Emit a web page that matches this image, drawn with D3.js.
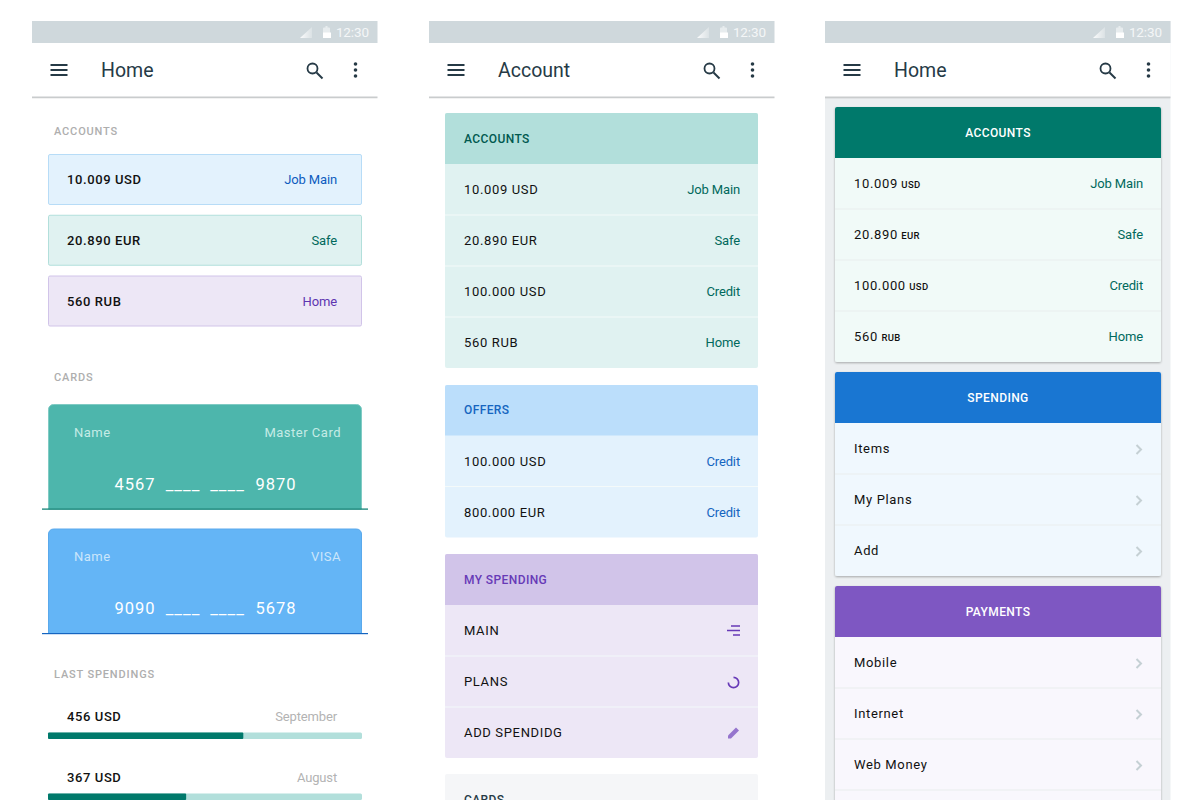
<!DOCTYPE html>
<html>
<head>
<meta charset="utf-8">
<title>Material cards</title>
<script src="https://cdn.jsdelivr.net/npm/d3@7"></script>
<style>
  html, body { margin: 0; padding: 0; background: #fff; overflow: hidden; }
  svg { display: block; }
  text { font-family: Roboto, sans-serif; }
</style>
</head>
<body>
<div id="chart"></div>
<script>
// Values
const simpleAccounts = ["10.009 USD", "20.890 EUR", "560 RUB"];
const simpleAccountNames = ["Job Main", "Safe", "Home"];
const cardNames = ["Master Card", "VISA"];
const cardFirst = ["4567", "9090"];
const cardLast = ["9870", "5678"];
const spendAmounts = ["456 USD", "367 USD"];
const spendMonths = ["September", "August"];
const spendShare = [0.622, 0.44];

const accountAmounts = ["10.009", "20.890", "100.000", "560"];
const accountUnits = ["USD", "EUR", "USD", "RUB"];
const accountNames = ["Job Main", "Safe", "Credit", "Home"];
const offerAmounts = ["100.000 USD", "800.000 EUR"];
const offerNames = ["Credit", "Credit"];
const mySpending = ["MAIN", "PLANS", "ADD SPENDIDG"];
const spendingItems = ["Items", "My Plans", "Add"];
const paymentItems = ["Mobile", "Internet", "Web Money", ""];

const width = 1200, height = 800;
const svg = d3.select("#chart").append("svg").attr("width", width).attr("height", height);

const defs = svg.append("defs");
const blur = defs.append("filter").attr("id", "soft").attr("x", "-5%").attr("y", "-5%").attr("width", "110%").attr("height", "115%");
blur.append("feDropShadow").attr("dx", 0).attr("dy", 1).attr("stdDeviation", 1).attr("flood-color", "#000").attr("flood-opacity", 0.3);
const fade = defs.append("linearGradient").attr("id", "signal").attr("x1", 0).attr("x2", 1).attr("y1", 0).attr("y2", 0);
fade.append("stop").attr("offset", "0%").attr("stop-color", "#fff").attr("stop-opacity", 0.9);
fade.append("stop").attr("offset", "100%").attr("stop-color", "#fff").attr("stop-opacity", 0.25);

const ink = "#263a46";

function label(g, x, y, str, o = {}) {
  return g.append("text")
    .attr("x", x).attr("y", y)
    .attr("dy", "0.35em")
    .attr("text-anchor", o.anchor || "start")
    .attr("font-size", o.size || 13)
    .attr("font-weight", o.weight || 400)
    .attr("letter-spacing", o.spacing === undefined ? 0.6 : o.spacing)
    .attr("fill", o.color || "#111")
    .text(str);
}

function phone(x, title, bg) {
  const g = svg.append("g").attr("transform", `translate(${x},0)`);
  g.append("rect").attr("y", 21).attr("width", 345.500).attr("height", height - 21).attr("fill", bg);
  g.append("rect").attr("y", 21).attr("width", 345.500).attr("height", 22).attr("fill", "#cfd8dc");

  // status bar
  g.append("path").attr("d", "M268 38h12v-11z").attr("fill", "url(#signal)");
  g.append("path").attr("d", "M291 38v-9.500a1 1 0 0 1 1-1h1.500v-1.500h2v1.500h1.500a1 1 0 0 1 1 1v9.500z").attr("fill", "#fff").attr("opacity", 0.5);
  g.append("path").attr("d", "M291 38v-5.500h8v5.500z").attr("fill", "#fff");
  label(g, 337, 32, "12:30", { anchor: "end", size: 13.500, color: "#f4f6f7", spacing: -0.1 });

  // app bar
  g.append("rect").attr("y", 43).attr("width", 345.500).attr("height", 54).attr("fill", "#fff");
  g.append("rect").attr("y", 96.500).attr("width", 345.500).attr("height", 1.500).attr("fill", "#c9cccd");
  g.append("rect").attr("y", 98).attr("width", 345.500).attr("height", 1).attr("fill", "#000").attr("opacity", 0.05);
  g.append("path").attr("d", "M18.500 65h17M18.500 70h17M18.500 75h17").attr("stroke", ink).attr("stroke-width", 1.800).attr("fill", "none");
  label(g, 69, 70.500, title, { size: 19.500, color: ink, spacing: 0 });
  g.append("circle").attr("cx", 280.500).attr("cy", 68.500).attr("r", 5).attr("fill", "none").attr("stroke", ink).attr("stroke-width", 1.800);
  g.append("path").attr("d", "M284.500 72.500l6 6").attr("stroke", ink).attr("stroke-width", 2);
  g.selectAll(".dot").data([-6, 0, 6]).join("circle")
    .attr("cx", 323.500).attr("cy", d => 70 + d).attr("r", 1.800).attr("fill", ink);
  return g;
}

function chevron(g, x, y) {
  g.append("path").attr("d", `M${x - 2.500} ${y - 4.500}l4.500 4.500l-4.500 4.500`)
    .attr("fill", "none").attr("stroke", "#c5d0d4").attr("stroke-width", 2);
}

// ---------- first screen
const p1 = phone(32, "Home", "#fff");
const sectionStyle = { size: 11, weight: 500, color: "#aeaeae", spacing: 0.85 };
label(p1, 22, 131, "ACCOUNTS", sectionStyle);
label(p1, 22, 377, "CARDS", sectionStyle);
label(p1, 22, 674, "LAST SPENDINGS", sectionStyle);

const simpleY = d3.scaleLinear().domain([0, 2]).range([154.500, 276]);
const simpleFill = ["#e3f2fd", "#e0f2f1", "#ede7f6"];
const simpleEdge = ["#b7dcf7", "#b2dfdb", "#d1c4e9"];
const simpleText = ["#0d5cbf", "#00695c", "#5e35b1"];
simpleAccounts.forEach((d, i) => {
  const y = simpleY(i);
  p1.append("rect").attr("x", 16.500).attr("y", y).attr("width", 313).attr("height", 50).attr("rx", 1.500)
    .attr("fill", simpleFill[i]).attr("stroke", simpleEdge[i]);
  label(p1, 35, y + 25, d, { weight: 500, spacing: 0.6 });
  label(p1, 305, y + 25, simpleAccountNames[i], { anchor: "end", color: simpleText[i], spacing: -0.15 });
});

const cardY = d3.scaleLinear().domain([0, 1]).range([404, 528.500]);
const cardFill = ["#4db6ac", "#64b5f6"];
const cardLine = ["#00796b", "#1565c0"];
const cardSoft = ["#c5ebe6", "#cbe6fb"];
const cardEdge = ["#80cbc4", "#5aa9ec"];
cardNames.forEach((d, i) => {
  const y = cardY(i);
  p1.append("path")
    .attr("d", `M16.500 ${y + 105}V${y + 5.500}a5 5 0 0 1 5-5H324.500a5 5 0 0 1 5 5V${y + 105}z`)
    .attr("fill", cardFill[i]).attr("stroke", cardEdge[i]);
  p1.append("rect").attr("x", 10).attr("y", y + 104.500).attr("width", 326).attr("height", 1.200).attr("fill", cardLine[i]);
  label(p1, 42, y + 28, "Name", { color: cardSoft[i], size: 13, spacing: 0.5 });
  label(p1, 309, y + 28, d, { anchor: "end", color: cardSoft[i], size: 13, spacing: 0.5 });
  label(p1, 82.500, y + 80, cardFirst[i], { color: "#fff", size: 16.500, spacing: 1 });
  label(p1, 264.500, y + 80, cardLast[i], { color: "#fff", size: 16.500, spacing: 1, anchor: "end" });
  // the hidden digits, four short dashes each
  [151, 195.500].forEach(c => label(p1, c, y + 80, "____", { anchor: "middle", color: "#fff", size: 17, spacing: 1 }));
});

const spendY = d3.scaleLinear().domain([0, 1]).range([716, 777]);
const spendX = d3.scaleLinear().domain([0, 1]).range([16, 330]);
spendAmounts.forEach((d, i) => {
  const y = spendY(i);
  label(p1, 35, y, d, { weight: 500, spacing: 0.6 });
  label(p1, 305, y, spendMonths[i], { anchor: "end", color: "#b3b3b3", spacing: -0.15 });
  p1.append("rect").attr("x", spendX(0)).attr("y", y + 16.500).attr("width", spendX(1) - spendX(0)).attr("height", 6.500).attr("rx", 1.500).attr("fill", "#b2dfdb");
  p1.append("rect").attr("x", spendX(0)).attr("y", y + 16.500).attr("width", spendX(spendShare[i]) - spendX(0)).attr("height", 6.500).attr("rx", 1).attr("fill", "#00796b");
});

// ---------- list cards for the 2nd and 3rd screen
const rowHeight = 51;
function listCard(g, o) {
  const y0 = o.y, n = o.rows.length;
  const rowY = d3.scaleBand().domain(d3.range(n)).range([y0 + o.head, y0 + o.head + n * rowHeight]);
  const c = g.append("g");
  c.append("rect").attr("x", o.x).attr("y", y0).attr("width", o.w).attr("height", o.head + n * rowHeight)
    .attr("rx", 2).attr("fill", o.rowFill).attr("filter", o.shadow ? "url(#soft)" : null);
  c.append("path")
    .attr("d", `M${o.x} ${y0 + o.head}V${y0 + 2}a2 2 0 0 1 2-2H${o.x + o.w - 2}a2 2 0 0 1 2 2V${y0 + o.head}z`)
    .attr("fill", o.headFill);
  label(c, o.center ? o.x + o.w / 2 : o.textX, y0 + o.head / 2, o.title, {
    anchor: o.center ? "middle" : "start", size: 12, weight: 500, color: o.headText, spacing: 0.4
  });
  o.rows.forEach((d, i) => {
    const y = rowY(i);
    if (i > 0) c.append("rect").attr("x", o.x).attr("y", y - 0.500).attr("width", o.w).attr("height", 1).attr("fill", o.sep);
    const mid = y + rowHeight / 2;
    if (d !== "") {
      const t = label(c, o.textX, mid, d, { spacing: 0.65, color: "#111" });
      if (o.units) t.append("tspan").attr("font-size", 9.500).attr("font-weight", 500).attr("letter-spacing", 0.3).attr("dx", 3.500).text(o.units[i]);
    }
    if (o.names) label(c, o.rightX, mid, o.names[i], { anchor: "end", color: o.nameColor, spacing: -0.15 });
    if (o.chevrons && d !== "") chevron(c, o.rightX - 4, mid + 1);
    if (o.icons) o.icons[i](c, o.rightX - 7, mid);
  });
  return c;
}

// ---------- second screen
const p2 = phone(429, "Account", "#fff");
const col2 = { x: 16, w: 313, head: 51, textX: 35, rightX: 311, sep: "#f4fafa" };
listCard(p2, {
  ...col2, y: 113, title: "ACCOUNTS", headFill: "#b2dfdb", headText: "#00594f", rowFill: "#e0f2f1",
  rows: accountAmounts.map((d, i) => d + " " + accountUnits[i]), names: accountNames, nameColor: "#00695c"
});
listCard(p2, {
  ...col2, y: 385, head: 50.500, title: "OFFERS", headFill: "#bbdefb", headText: "#1565c0", rowFill: "#e3f2fd",
  rows: offerAmounts, names: offerNames, nameColor: "#1565c0"
});
const violet = "#673ab7";
const spinner = d3.arc().innerRadius(4.300).outerRadius(6).startAngle(0).endAngle(Math.PI * 1.5);
const spendIcons = [
  (g, x, y) => g.append("path").attr("d", `M${x - 2} ${y - 4.500}h9M${x - 6} ${y}h13M${x} ${y + 4.500}h7`)
    .attr("stroke", violet).attr("stroke-width", 1.500).attr("fill", "none"),
  (g, x, y) => g.append("path").attr("d", spinner()).attr("fill", violet)
    .attr("transform", `translate(${x + 0.500},${y + 1})`),
  (g, x, y) => g.append("path").attr("d", `M${x - 5} ${y + 6}v-3l8-8l3 3l-8 8z`).attr("fill", "#9575cd")
];
listCard(p2, {
  ...col2, y: 554, title: "MY SPENDING", headFill: "#d1c4e9", headText: violet, rowFill: "#ede7f6",
  rows: mySpending, icons: spendIcons
});
p2.append("rect").attr("x", 16).attr("y", 774).attr("width", 313).attr("height", 30).attr("rx", 2).attr("fill", "#f5f6f8");
label(p2, 35, 800, "CARDS", { size: 12, weight: 500, color: ink, spacing: 0.4 });

// ---------- third screen
const p3 = phone(825, "Home", "#eceff1");
const col3 = { x: 10, w: 326, head: 51, textX: 29, rightX: 318, sep: "#e9eeee", center: true, shadow: true };
listCard(p3, {
  ...col3, y: 107, title: "ACCOUNTS", headFill: "#00796b", headText: "#fff", rowFill: "#f1faf8",
  rows: accountAmounts, units: accountUnits, names: accountNames, nameColor: "#00695c"
});
listCard(p3, {
  ...col3, y: 372, title: "SPENDING", headFill: "#1976d2", headText: "#fff", rowFill: "#f0f8fe",
  rows: spendingItems, chevrons: true
});
listCard(p3, {
  ...col3, y: 586, title: "PAYMENTS", headFill: "#7e57c2", headText: "#fff", rowFill: "#f9f7fd",
  rows: paymentItems, chevrons: true
});
</script>
</body>
</html>
